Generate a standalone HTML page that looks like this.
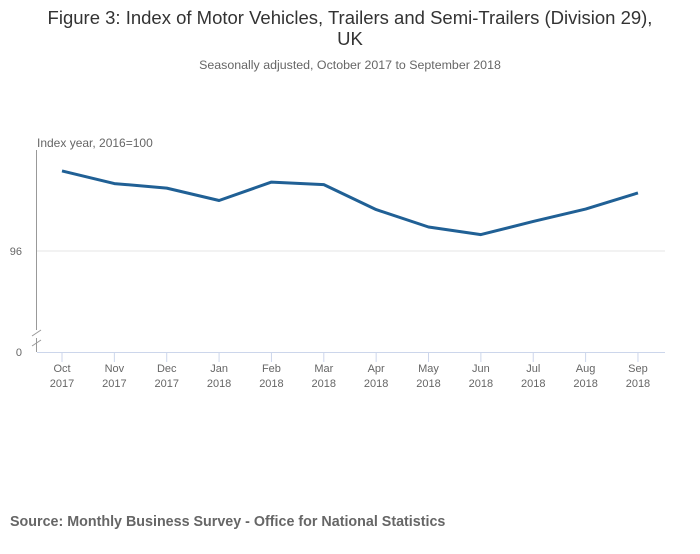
<!DOCTYPE html>
<html><head><meta charset="utf-8"><style>
body{margin:0;background:#fff;width:700px;height:549px;overflow:hidden;font-family:"Liberation Sans",sans-serif}
svg text{font-family:"Liberation Sans",sans-serif}
</style></head><body>
<svg width="700" height="549">
<text x="350" y="24" text-anchor="middle" font-size="18.5" fill="#333">Figure 3: Index of Motor Vehicles, Trailers and Semi-Trailers (Division 29),</text>
<text x="350" y="45" text-anchor="middle" font-size="18.5" fill="#333">UK</text>
<text x="350" y="69" text-anchor="middle" font-size="12.4" fill="#666">Seasonally adjusted, October 2017 to September 2018</text>
<text x="37" y="147" font-size="12" fill="#666">Index year, 2016=100</text>
<g id="g"></g>
<text x="10" y="526" font-size="14.3" font-weight="bold" fill="#666">Source: Monthly Business Survey - Office for National Statistics</text>
</svg>
<script>
const months=["Oct","Nov","Dec","Jan","Feb","Mar","Apr","May","Jun","Jul","Aug","Sep"];
const years=["2017","2017","2017","2018","2018","2018","2018","2018","2018","2018","2018","2018"];
const values=[99.17,98.67,98.49,98.0,98.73,98.63,97.64,96.95,96.65,97.17,97.66,98.3];
const yTicks=[96];
const NS="http://www.w3.org/2000/svg",g=document.getElementById('g');
function x(i){return 62+i*52.36;}
function y(v){return 251-(v-96)*25.25;}
function mk(t,a,p){const e=document.createElementNS(NS,t);for(const k in a)e.setAttribute(k,a[k]);(p||g).appendChild(e);return e;}
yTicks.forEach(t=>{
 const l=mk('line',{x1:37,x2:665,y1:y(t),y2:y(t),stroke:'#e6e6e6'});
 
 
 const tx=mk('text',{x:22,y:y(t)+4,'text-anchor':'end','font-size':11,fill:'#666'});tx.textContent=t;
 
 
});
const z=mk('text',{x:22,y:356,'text-anchor':'end','font-size':11,fill:'#666'});z.textContent='0';


const ya=mk('line',{x1:36.5,x2:36.5,y1:150,y2:330,stroke:'#999'});


mk('line',{x1:36.5,x2:36.5,y1:338,y2:352,stroke:'#999'});
mk('line',{x1:32,x2:41,y1:336,y2:330,stroke:'#999'});
mk('line',{x1:32,x2:41,y1:346,y2:340,stroke:'#999'});
const xa=mk('line',{x1:37,x2:665,y1:352.5,y2:352.5,stroke:'#ccd6eb'});


months.forEach((m,i)=>{
 mk('line',{x1:x(i),x2:x(i),y1:352,y2:362,stroke:'#ccd6eb'});
 const t=mk('text',{x:x(i),y:372,'text-anchor':'middle','font-size':11,fill:'#666'});
 
 
 mk('tspan',{x:x(i)},t).textContent=m;
 mk('tspan',{x:x(i),dy:15},t).textContent=years[i];
});
const p=mk('polyline',{points:values.map((v,i)=>x(i)+','+y(v)).join(' '),fill:'none',stroke:'#206095','stroke-width':3,'stroke-linejoin':'round'});


</script>
</body></html>
